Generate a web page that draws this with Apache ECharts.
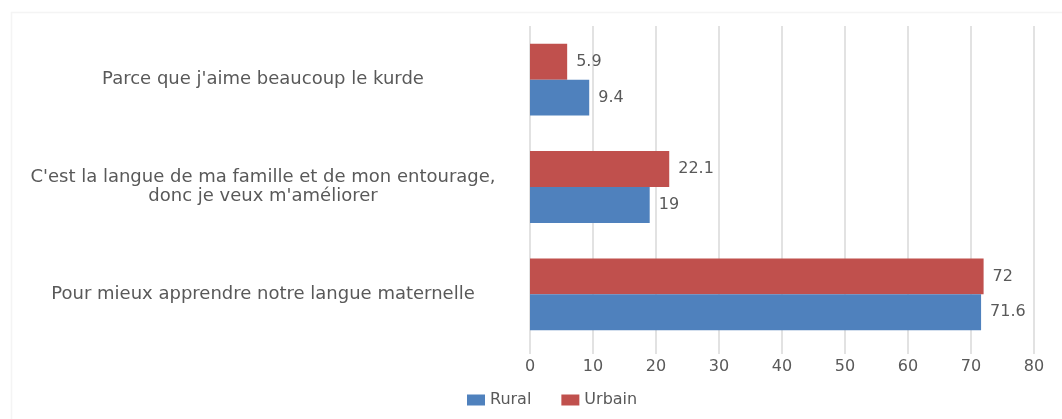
<!DOCTYPE html>
<html>
<head>
<meta charset="utf-8">
<script src="https://cdn.jsdelivr.net/npm/echarts@6/dist/echarts.min.js"></script>
<style>
html,body{margin:0;padding:0;background:#fff;}
#chart{width:1062px;height:419px;}
</style>
</head>
<body>
<div id="chart"></div>
<script>
// bottom-to-top order, as the category axis is drawn
const categories = [
  "Pour mieux apprendre notre langue maternelle",
  "C'est la langue de ma famille et de mon entourage,\ndonc je veux m'améliorer",
  "Parce que j'aime beaucoup le kurde"
];
const rural = [71.6, 19, 9.4];
const urbain = [72, 22.1, 5.9];
const xTicks = [0, 10, 20, 30, 40, 50, 60, 70, 80];

const FONT = "DejaVu Sans";
const TXT = "#595959";

const chart = echarts.init(document.getElementById('chart'), null, {renderer: 'canvas'});
chart.setOption({
  animation: false,
  backgroundColor: '#ffffff',
  textStyle: {fontFamily: FONT},
  graphic: [{
    type: 'rect', left: 9, top: 10, z: -10, silent: true,
    shape: {x: 0, y: 0, width: 1070, height: 420},
    style: {fill: 'none', stroke: '#f4f4f4', lineWidth: 1.5}
  }],
  grid: {left: 530, right: 28, top: 26, bottom: 71, containLabel: false},
  legend: {
    data: ['Rural', 'Urbain'],
    top: 387,
    left: 462,
    itemWidth: 18,
    itemHeight: 11,
    itemGap: 30,
    icon: 'rect',
    textStyle: {color: TXT, fontSize: 16, fontFamily: FONT}
  },
  xAxis: {
    type: 'value',
    min: xTicks[0],
    max: xTicks[xTicks.length - 1],
    interval: 10,
    axisLine: {show: false},
    axisTick: {show: true, length: 6, lineStyle: {color: '#d9d9d9', width: 1.5}},
    splitLine: {show: true, lineStyle: {color: '#d9d9d9', width: 1.5}},
    axisLabel: {color: TXT, fontSize: 16, fontFamily: FONT, margin: 11}
  },
  yAxis: {
    type: 'category',
    data: categories,
    axisLine: {show: false},
    axisTick: {show: false},
    axisLabel: {
      color: TXT, fontSize: 18, fontFamily: FONT,
      align: 'center', margin: 267, lineHeight: 19
    }
  },
  series: [
    {
      name: 'Urbain', type: 'bar', data: urbain,
      barCategoryGap: '33%', barGap: '0%',
      itemStyle: {color: '#C0504D'},
      label: {show: true, position: 'right', distance: 9, color: TXT, fontSize: 16, fontFamily: FONT}
    },
    {
      name: 'Rural', type: 'bar', data: rural,
      barCategoryGap: '33%', barGap: '0%',
      itemStyle: {color: '#4F81BD'},
      label: {show: true, position: 'right', distance: 9, color: TXT, fontSize: 16, fontFamily: FONT}
    }
  ]
});
</script>
</body>
</html>
